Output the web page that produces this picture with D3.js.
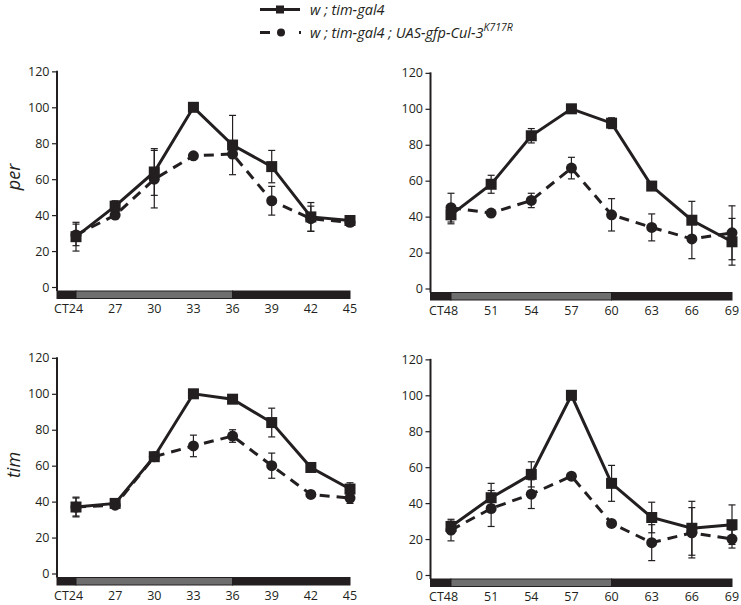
<!DOCTYPE html>
<html><head><meta charset="utf-8">
<script src="https://cdn.jsdelivr.net/npm/d3@7"></script>
<style>
body{margin:0;background:#fff;}
svg{display:block;font-family:"Open Sans",sans-serif;}
</style></head>
<body>
<svg id="chart" width="741" height="605"></svg>
<script>
// ---- data ----
const timesA = ["24","27","30","33","36","39","42","45"];
const timesB = ["48","51","54","57","60","63","66","69"];
const yTicks = [0,20,40,60,80,100,120];
const seriesNames = ["w ; tim-gal4", "w ; tim-gal4 ; UAS-gfp-Cul-3"];
const seriesSup = ["", "K717R"];
const rowLabels = ["per", "tim"];

const perA_ctrl = [28,45,64,100,79,67,39,37];
const perA_ctrlErr = [8,3,13,0,16.5,9,8,1];
const perA_mut = [29,40,60,73,74,48,38,36];
const perA_mutErr = [6,2,16,0,2,8,7,1];

const perB_ctrl = [41,58,85,100,92,57,38,26];
const perB_ctrlErr = [5,5,4,0,3,0,10.5,13];
const perB_mut = [45,42,49,67,41,34,27.6,31];
const perB_mutErr = [8,1,4,6,9,7.5,11,15];

const timA_ctrl = [37,39,65,100,97,84,59,47];
const timA_ctrlErr = [5.5,1,1,0,1,8,1,3.5];
const timA_mut = [37,38,65,71,76.5,60,44,42];
const timA_mutErr = [5,1,1,6,3.5,7,1,3];

const timB_ctrl = [27,43,56,100,51,32,26,28];
const timB_ctrlErr = [3,8,7,0,10,8.5,15,11];
const timB_mut = [25,37,45,55,28.7,18,23.5,20];
const timB_mutErr = [6,10,8,1,1,10,14,5];

// ---- layout ----
const INK = "#231f20";
const svg = d3.select("#chart");
const cols = [{axis:57, x0:76, x1:350}, {axis:430.5, x0:451, x1:732}];
const rows = [[287, 288.5], [573.5, 575]];
const PXU = 1.797;

const panels = [
  {r:0,c:0,times:timesA,ctrl:perA_ctrl,ctrlErr:perA_ctrlErr,mut:perA_mut,mutErr:perA_mutErr},
  {r:0,c:1,times:timesB,ctrl:perB_ctrl,ctrlErr:perB_ctrlErr,mut:perB_mut,mutErr:perB_mutErr},
  {r:1,c:0,times:timesA,ctrl:timA_ctrl,ctrlErr:timA_ctrlErr,mut:timA_mut,mutErr:timA_mutErr},
  {r:1,c:1,times:timesB,ctrl:timB_ctrl,ctrlErr:timB_ctrlErr,mut:timB_mut,mutErr:timB_mutErr}
];

panels.forEach(p => {
  const col = cols[p.c];
  const y0 = rows[p.r][p.c];
  const x = d3.scalePoint().domain(p.times).range([col.x0, col.x1]);
  const y = d3.scaleLinear().domain([0,120]).range([y0, y0 - 120*PXU]);
  const g = svg.append("g");

  // time bar
  const barTop = y0 + 4, barH = 7.5;
  const xs = p.times.map(t => x(t));
  const segs = [
    {a: col.axis, b: xs[0], fill: INK},
    {a: xs[0], b: xs[4], fill: "#6e6e6e"},
    {a: xs[4], b: xs[7], fill: INK}
  ];
  g.selectAll("rect.bar").data(segs).join("rect")
    .attr("x", d => d.a).attr("y", barTop).attr("width", d => d.b - d.a).attr("height", barH)
    .attr("fill", d => d.fill).attr("stroke", INK).attr("stroke-width", 1);

  // y axis
  const ax = g.append("g").attr("transform", `translate(${col.axis},0)`)
    .call(d3.axisLeft(y).tickValues(yTicks).tickSize(5).tickPadding(2.5).tickSizeOuter(0));
  ax.select(".domain").remove();
  ax.selectAll(".tick line").attr("stroke", INK).attr("stroke-width", 1.2);
  ax.selectAll(".tick text").attr("fill", INK).style("font-size", "12.5px").style("font-family", '"Open Sans",sans-serif');
  g.append("line").attr("x1", col.axis).attr("x2", col.axis)
    .attr("y1", y(120) - 0.5).attr("y2", barTop)
    .attr("stroke", INK).attr("stroke-width", 2);

  // x labels
  const labY = barTop + barH + 14.5;
  p.times.forEach((t, i) => {
    const tx = g.append("text").attr("x", x(t)).attr("y", labY)
      .attr("text-anchor", "middle").attr("fill", INK).style("font-size", "12.5px").text(t);
    if (i === 0) {
      const w = tx.node().getComputedTextLength();
      g.append("text").attr("x", x(t) - w/2).attr("y", labY).attr("text-anchor", "end")
        .attr("fill", INK).style("font-size", "12.5px").text("CT");
    }
  });

  // series: mutant (dashed, circles) first, control (solid, squares) on top
  const drawSeries = (vals, errs, dashed) => {
    const pts = vals.map((v, i) => ({t: p.times[i], v, e: errs[i]}));
    const sg = g.append("g");
    sg.selectAll("g.err").data(pts.filter(d => d.e > 0)).join("g").each(function(d) {
      const eg = d3.select(this);
      const cx = x(d.t);
      eg.append("line").attr("x1", cx).attr("x2", cx).attr("y1", y(d.v - d.e)).attr("y2", y(d.v + d.e))
        .attr("stroke", INK).attr("stroke-width", 1.2);
      [d.v - d.e, d.v + d.e].forEach(vv => {
        eg.append("line").attr("x1", cx - 3.5).attr("x2", cx + 3.5).attr("y1", y(vv)).attr("y2", y(vv))
          .attr("stroke", INK).attr("stroke-width", 1.2);
      });
    });
    sg.append("path").datum(pts)
      .attr("d", d3.line().x(d => x(d.t)).y(d => y(d.v)))
      .attr("fill", "none").attr("stroke", INK).attr("stroke-width", 3)
      .attr("stroke-dasharray", dashed ? "10,7" : null);
    if (dashed) {
      sg.selectAll("circle").data(pts).join("circle")
        .attr("cx", d => x(d.t)).attr("cy", d => y(d.v)).attr("r", 5.5).attr("fill", INK);
    } else {
      sg.selectAll("rect").data(pts).join("rect")
        .attr("x", d => x(d.t) - 5.5).attr("y", d => y(d.v) - 5.5)
        .attr("width", 11).attr("height", 11).attr("fill", INK);
    }
  };
  drawSeries(p.mut, p.mutErr, true);
  drawSeries(p.ctrl, p.ctrlErr, false);
});

// row labels
rowLabels.forEach((lab, i) => {
  const cy = i === 0 ? 177 : 465;
  svg.append("text").attr("transform", `translate(20,${cy}) rotate(-90)`)
    .attr("text-anchor", "middle").attr("fill", INK)
    .style("font-size", "18px").style("font-style", "italic").text(lab);
});

// legend
const legY = [9.5, 32.5];
const lg = svg.append("g");
seriesNames.forEach((name, i) => {
  const yy = legY[i];
  lg.append("line").attr("x1", 260).attr("x2", i === 0 ? 300 : 301).attr("y1", yy).attr("y2", yy)
    .attr("stroke", INK).attr("stroke-width", 3)
    .attr("stroke-dasharray", i === 0 ? null : "10,29,2");
  if (i === 0) {
    lg.append("rect").attr("x", 276).attr("y", yy - 4).attr("width", 8).attr("height", 8).attr("fill", INK);
  } else {
    lg.append("circle").attr("cx", 281).attr("cy", yy).attr("r", 4).attr("fill", INK);
  }
  const t = lg.append("text").attr("x", 310).attr("y", yy + 5).attr("fill", INK)
    .style("font-size", "14.5px").style("font-style", "italic").text(name);
  if (seriesSup[i]) {
    t.append("tspan").attr("dy", -7).style("font-size", "10.5px").text(seriesSup[i]);
  }
});
</script>
</body></html>
